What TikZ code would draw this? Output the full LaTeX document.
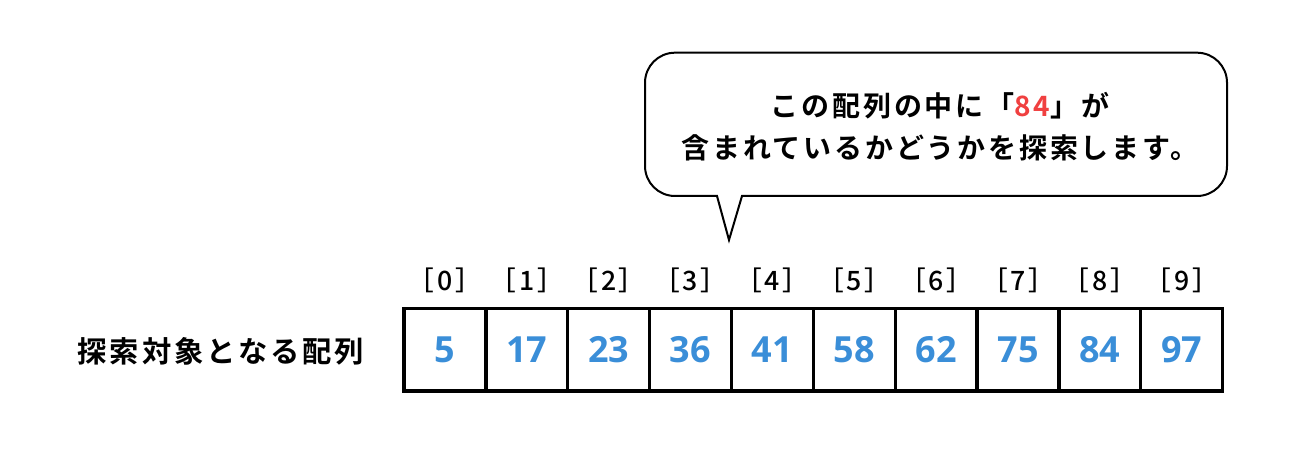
\documentclass[tikz,border=0pt]{standalone}
\usepackage{fontspec}
\usepackage{tikz}
\newfontfamily\jpfont{Noto Sans CJK JP}[BoldFont={Noto Sans CJK JP Bold},LetterSpace=10]
\newfontfamily\jpmed{Noto Sans CJK JP Medium}[LetterSpace=10]
\newfontfamily\numfont{Open Sans}
\definecolor{numblue}{RGB}{58,142,216}
\definecolor{keyred}{RGB}{240,64,64}
\tikzset{every picture/.style={line width=0.75pt}}
\tikzset{
  cell/.style={draw, line width=2.5pt, minimum width=61.4pt, minimum height=62pt, inner sep=0pt, text=numblue, font=\numfont\bfseries\fontsize{27}{27}\selectfont},
  idx/.style={inner sep=0.75pt, font=\jpmed\fontsize{20}{20}\selectfont},
  jptext/.style={inner sep=0.75pt, font=\jpfont\bfseries\fontsize{21}{31.5}\selectfont}
}

\begin{document}
\begin{tikzpicture}[x=0.75pt,y=0.75pt,yscale=-1,xscale=1]
\useasboundingbox (0,0) rectangle (1301,459);

%Shape: Speech Bubble
\draw [line width=1.5] (675,52.7) -- (1197,52.7) .. controls (1213.6,52.7) and (1227,66.1) .. (1227,82.7) -- (1227,166) .. controls (1227,182.6) and (1213.6,196) .. (1197,196) -- (742,196) -- (729,240) -- (717,196) -- (675,196) .. controls (658.4,196) and (645,182.6) .. (645,166) -- (645,82.7) .. controls (645,66.1) and (658.4,52.7) .. (675,52.7) -- cycle ;

% Text Node
\node [jptext, align=center] (msg) at (940,127) {この配列の中に「{\color{keyred}84}」が\\含まれているかどうかを探索します。};
% Text Node
\node [jptext, font=\jpfont\bfseries\fontsize{22}{22}\selectfont] (lbl) at (221,351) {探索対象となる配列};

% Array
\foreach \v [count=\i from 0] in {5,17,23,36,41,58,62,75,84,97} {
  \node [cell] (c\i) at (444.9+81.87*\i,349.7) {\v};
  \node [idx] (i\i) at (444.9+81.87*\i,280) {［\i］};
}

\end{tikzpicture}
\end{document}
